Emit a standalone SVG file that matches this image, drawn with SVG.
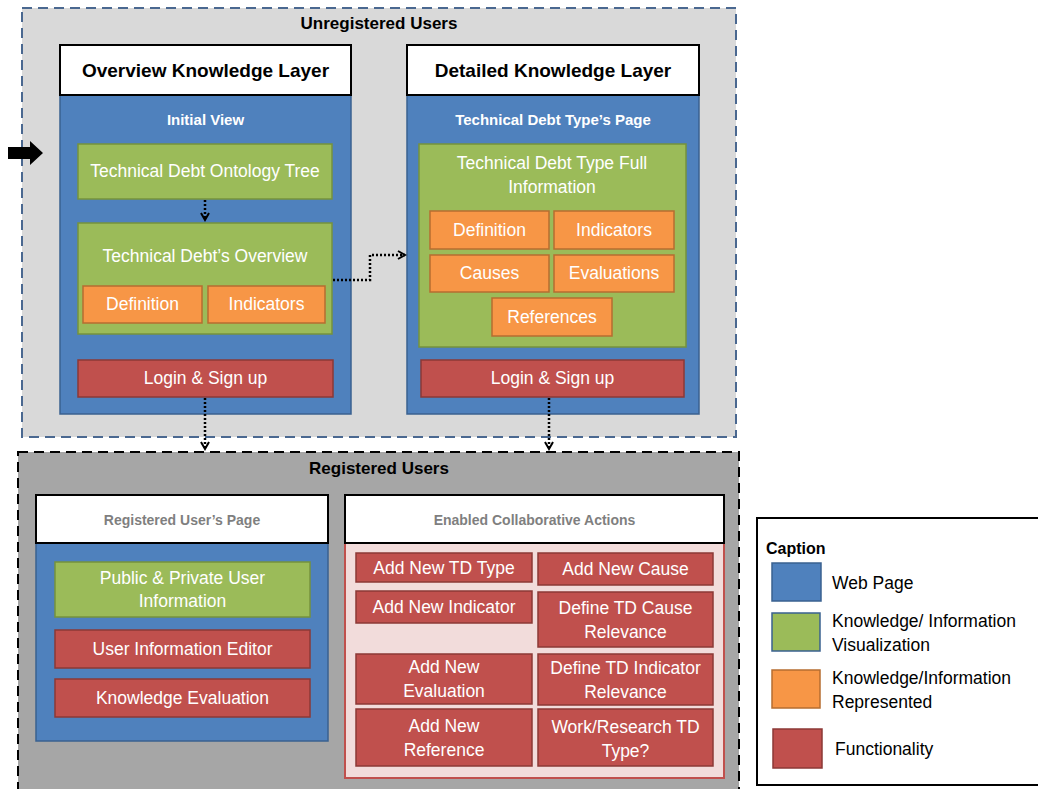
<svg xmlns="http://www.w3.org/2000/svg" width="1038" height="789" viewBox="0 0 1038 789">
<defs>
<style>
text{font-family:"Liberation Sans",Arial,sans-serif;}
.t{font-size:17.5px;fill:#ffffff;text-anchor:middle;}
.hdr{font-size:19px;font-weight:bold;fill:#000;text-anchor:middle;}
.sub{font-size:15px;font-weight:bold;fill:#ffffff;text-anchor:middle;}
.gh{font-size:14px;font-weight:bold;fill:#7f7f7f;text-anchor:middle;}
.grp{font-size:17px;font-weight:bold;fill:#000;text-anchor:middle;}
.cap{font-size:17.5px;fill:#000;}
.white{fill:#ffffff;stroke:#000;stroke-width:2;}
.blue{fill:#4f81bd;stroke:#3a6190;stroke-width:1.5;}
.green{fill:#9bbb59;stroke:#76923c;stroke-width:1.5;}
.orange{fill:#f79646;stroke:#b66d31;stroke-width:1.5;}
.red{fill:#c0504d;stroke:#8c3836;stroke-width:1.5;}
.dot{fill:none;stroke:#000;stroke-width:2.5;stroke-dasharray:2,2;}
</style>
<marker id="ah" markerWidth="10" markerHeight="10" refX="8" refY="5" orient="auto" markerUnits="userSpaceOnUse">
<path d="M1,1 L8,5 L1,9" fill="none" stroke="#000" stroke-width="2"/>
</marker>
</defs>

<g id="unregistered">
<rect x="22" y="8" width="714" height="429" fill="#d9d9d9" stroke="#4a6890" stroke-width="2" stroke-dasharray="10,6"/>
<text class="grp" x="379" y="29">Unregistered Users</text>
</g>

<g id="registered">
<rect x="18" y="452" width="721" height="345" fill="#a6a6a6" stroke="#000" stroke-width="2" stroke-dasharray="10,6"/>
<text class="grp" x="379" y="474">Registered Users</text>
</g>

<g id="overview-layer">
<rect class="blue" x="60" y="95" width="291" height="319"/>
<rect class="white" x="60" y="45" width="291" height="50"/>
<text class="hdr" x="205.5" y="77">Overview Knowledge Layer</text>
<text class="sub" x="205.5" y="125">Initial View</text>
</g>

<g id="ontology-tree">
<rect class="green" x="78" y="144" width="254" height="55"/>
<text class="t" x="205" y="177">Technical Debt Ontology Tree</text>
</g>

<g id="td-overview">
<rect class="green" x="78" y="223" width="254" height="111"/>
<text class="t" x="205" y="262">Technical Debt’s Overview</text>
<rect class="orange" x="83" y="286" width="119" height="37"/>
<text class="t" x="142.5" y="310">Definition</text>
<rect class="orange" x="208" y="286" width="117" height="37"/>
<text class="t" x="266.5" y="310">Indicators</text>
</g>

<g id="login-1">
<rect class="red" x="78" y="360" width="255" height="37"/>
<text class="t" x="205.5" y="384">Login &amp; Sign up</text>
</g>

<g id="detailed-layer">
<rect class="blue" x="407" y="95" width="292" height="319"/>
<rect class="white" x="407" y="45" width="292" height="50"/>
<text class="hdr" x="553" y="77">Detailed Knowledge Layer</text>
<text class="sub" x="553" y="125">Technical Debt Type’s Page</text>
</g>

<g id="td-type-full">
<rect class="green" x="419" y="144" width="267" height="203"/>
<text class="t" x="552" y="169">Technical Debt Type Full</text>
<text class="t" x="552" y="193">Information</text>
<rect class="orange" x="430" y="211" width="119" height="38"/>
<text class="t" x="489.5" y="236">Definition</text>
<rect class="orange" x="554" y="211" width="120" height="38"/>
<text class="t" x="614" y="236">Indicators</text>
<rect class="orange" x="430" y="255" width="119" height="37"/>
<text class="t" x="489.5" y="279">Causes</text>
<rect class="orange" x="554" y="255" width="120" height="37"/>
<text class="t" x="614" y="279">Evaluations</text>
<rect class="orange" x="492" y="298" width="120" height="38"/>
<text class="t" x="552" y="323">References</text>
</g>

<g id="login-2">
<rect class="red" x="421" y="360" width="263" height="37"/>
<text class="t" x="552.5" y="384">Login &amp; Sign up</text>
</g>

<g id="registered-page">
<rect class="blue" x="36" y="543" width="292" height="198"/>
<rect class="white" x="36" y="495" width="292" height="48"/>
<text class="gh" x="182" y="525">Registered User’s Page</text>
<rect class="green" x="55" y="562" width="255" height="55"/>
<text class="t" x="182.5" y="584">Public &amp; Private User</text>
<text class="t" x="182.5" y="607">Information</text>
<rect class="red" x="55" y="630" width="255" height="38"/>
<text class="t" x="182.5" y="655">User Information Editor</text>
<rect class="red" x="55" y="679" width="255" height="38"/>
<text class="t" x="182.5" y="704">Knowledge Evaluation</text>
</g>

<g id="collab-actions">
<rect x="345" y="543" width="379" height="235" fill="#f2dcdb" stroke="#c0504d" stroke-width="2"/>
<rect class="white" x="345" y="495" width="379" height="48"/>
<text class="gh" x="534.5" y="525">Enabled Collaborative Actions</text>
<rect class="red" x="356" y="553" width="176" height="29"/>
<text class="t" x="444" y="574">Add New TD Type</text>
<rect class="red" x="538" y="553" width="175" height="32"/>
<text class="t" x="625.5" y="575">Add New Cause</text>
<rect class="red" x="356" y="591" width="176" height="32"/>
<text class="t" x="444" y="613">Add New Indicator</text>
<rect class="red" x="538" y="592" width="175" height="55"/>
<text class="t" x="625.5" y="614">Define TD Cause</text>
<text class="t" x="625.5" y="638">Relevance</text>
<rect class="red" x="356" y="654" width="176" height="50"/>
<text class="t" x="444" y="673">Add New</text>
<text class="t" x="444" y="697">Evaluation</text>
<rect class="red" x="538" y="654" width="175" height="51"/>
<text class="t" x="625.5" y="674">Define TD Indicator</text>
<text class="t" x="625.5" y="698">Relevance</text>
<rect class="red" x="356" y="709" width="176" height="57"/>
<text class="t" x="444" y="732">Add New</text>
<text class="t" x="444" y="756">Reference</text>
<rect class="red" x="538" y="709" width="175" height="57"/>
<text class="t" x="625.5" y="733">Work/Research TD</text>
<text class="t" x="625.5" y="757">Type?</text>
</g>

<g id="caption">
<rect x="757" y="518" width="290" height="267" fill="#ffffff" stroke="#000" stroke-width="2"/>
<text x="766" y="554" style="font-size:16px;font-weight:bold;fill:#000">Caption</text>
<rect class="blue" x="772" y="563" width="49" height="38"/>
<text class="cap" x="832" y="589">Web Page</text>
<rect x="772" y="613" width="48" height="38" fill="#9bbb59" stroke="#3a6190" stroke-width="1.5"/>
<text class="cap" x="832" y="627">Knowledge/ Information</text>
<text class="cap" x="832" y="651">Visualization</text>
<rect class="orange" x="772" y="670" width="48" height="38"/>
<text class="cap" x="832" y="684">Knowledge/Information</text>
<text class="cap" x="832" y="708">Represented</text>
<rect class="red" x="773" y="729" width="49" height="39"/>
<text class="cap" x="835" y="755">Functionality</text>
</g>

<g id="connectors">
<polygon points="8,147 30,147 30,141 43,153 30,165 30,159 8,159" fill="#000"/>
<line class="dot" x1="205" y1="200" x2="205" y2="220" marker-end="url(#ah)"/>
<polyline class="dot" points="333,280 370,280 370,255 405,255" marker-end="url(#ah)"/>
<line class="dot" x1="205" y1="398" x2="205" y2="449" marker-end="url(#ah)"/>
<line class="dot" x1="549" y1="398" x2="549" y2="449" marker-end="url(#ah)"/>
</g>
</svg>
